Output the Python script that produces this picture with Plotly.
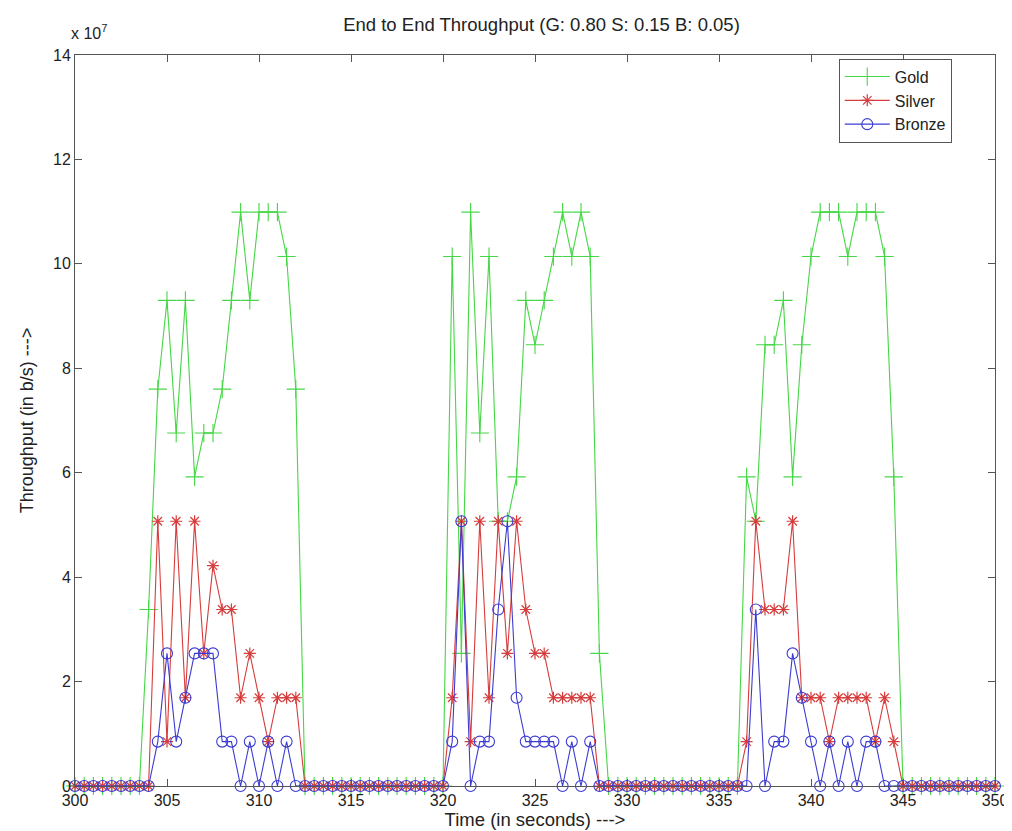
import numpy as np
import plotly.graph_objects as go

# Time axis: samples every 0.5 s from 300 to 350
time_s = np.arange(300.0, 350.5, 0.5)

# Throughput values (b/s) (in units of 1e7 then scaled)
gold_e7 = [
    0, 0, 0, 0, 0, 0, 0, 0, 3.38, 7.6,
    9.3, 6.76, 9.3, 5.92, 6.76, 6.76, 7.6, 9.3, 10.99, 9.3,
    10.99, 10.99, 10.99, 10.14, 7.6, 0, 0, 0, 0, 0,
    0, 0, 0, 0, 0, 0, 0, 0, 0, 0,
    0, 10.14, 2.54, 10.99, 6.76, 10.14, 5.07, 5.07, 5.92, 9.3,
    8.45, 9.3, 10.14, 10.99, 10.14, 10.99, 10.14, 2.54, 0, 0,
    0, 0, 0, 0, 0, 0, 0, 0, 0, 0,
    0, 0, 0, 5.92, 5.07, 8.45, 8.45, 9.3, 5.92, 8.45,
    10.14, 10.99, 10.99, 10.99, 10.14, 10.99, 10.99, 10.99, 10.14, 5.92,
    0, 0, 0, 0, 0, 0, 0, 0, 0, 0,
    0,
]
silver_e7 = [
    0, 0, 0, 0, 0, 0, 0, 0, 0, 5.07,
    0.85, 5.07, 1.69, 5.07, 2.54, 4.22, 3.38, 3.38, 1.69, 2.54,
    1.69, 0.85, 1.69, 1.69, 1.69, 0, 0, 0, 0, 0,
    0, 0, 0, 0, 0, 0, 0, 0, 0, 0,
    0, 1.69, 5.07, 0.85, 5.07, 1.69, 5.07, 2.54, 5.07, 3.38,
    2.54, 2.54, 1.69, 1.69, 1.69, 1.69, 1.69, 0, 0, 0,
    0, 0, 0, 0, 0, 0, 0, 0, 0, 0,
    0, 0, 0, 0.85, 5.07, 3.38, 3.38, 3.38, 5.07, 1.69,
    1.69, 1.69, 0.85, 1.69, 1.69, 1.69, 1.69, 0.85, 1.69, 0.85,
    0, 0, 0, 0, 0, 0, 0, 0, 0, 0,
    0,
]
bronze_e7 = [
    0, 0, 0, 0, 0, 0, 0, 0, 0, 0.85,
    2.54, 0.85, 1.69, 2.54, 2.54, 2.54, 0.85, 0.85, 0, 0.85,
    0, 0.85, 0, 0.85, 0, 0, 0, 0, 0, 0,
    0, 0, 0, 0, 0, 0, 0, 0, 0, 0,
    0, 0.85, 5.07, 0, 0.85, 0.85, 3.38, 5.07, 1.69, 0.85,
    0.85, 0.85, 0.85, 0, 0.85, 0, 0.85, 0, 0, 0,
    0, 0, 0, 0, 0, 0, 0, 0, 0, 0,
    0, 0, 0, 0, 3.38, 0, 0.85, 0.85, 2.54, 1.69,
    0.85, 0, 0.85, 0, 0.85, 0, 0.85, 0.85, 0, 0,
    0, 0, 0, 0, 0, 0, 0, 0, 0, 0,
    0,
]

gold = np.array(gold_e7) * 1e7
silver = np.array(silver_e7) * 1e7
bronze = np.array(bronze_e7) * 1e7

y_ticks = [0, 2, 4, 6, 8, 10, 12, 14]
x_ticks = [300, 305, 310, 315, 320, 325, 330, 335, 340, 345, 350]

GREEN = "rgb(70,215,70)"
RED = "rgb(215,60,60)"
BLUE = "rgb(60,60,210)"
FONT = "Liberation Sans, Arial, sans-serif"

fig = go.Figure()
fig.add_trace(go.Scatter(
    x=time_s, y=gold, name="Gold", mode="lines+markers", cliponaxis=False,
    line=dict(color=GREEN, width=1.1),
    marker=dict(symbol="cross-thin", size=13, color=GREEN,
                line=dict(color=GREEN, width=1.1)),
))
fig.add_trace(go.Scatter(
    x=time_s, y=silver, name="Silver", mode="lines+markers", cliponaxis=False,
    line=dict(color=RED, width=1.1),
    marker=dict(symbol="asterisk", size=10, color=RED,
                line=dict(color=RED, width=1.2)),
))
fig.add_trace(go.Scatter(
    x=time_s, y=bronze, name="Bronze", mode="lines+markers", cliponaxis=False,
    line=dict(color=BLUE, width=1.1),
    marker=dict(symbol="circle-open", size=11, color=BLUE,
                line=dict(color=BLUE, width=1.1)),
))

axis_common = dict(
    showline=True, mirror="ticks", linecolor="#555", linewidth=1,
    ticks="inside", ticklen=7, tickcolor="#555", showgrid=False, zeroline=False,
    tickfont=dict(family=FONT, size=16, color="#222"),
    ticklabeloverflow="allow",
)
fig.update_xaxes(range=[300, 350], tickvals=x_ticks,
                 title=dict(text="Time (in seconds) --->", standoff=1,
                            font=dict(family=FONT, size=18.5, color="#222")),
                 **axis_common)
fig.update_yaxes(range=[0, 14e7], tickvals=[v * 1e7 for v in y_ticks],
                 ticktext=[str(v) for v in y_ticks],
                 title=dict(text="Throughput (in b/s) --->", standoff=14,
                            font=dict(family=FONT, size=18, color="#222")),
                 **axis_common)

fig.update_layout(
    width=1012, height=831,
    margin=dict(l=67, r=12, t=47, b=53),
    plot_bgcolor="white", paper_bgcolor="white",
    title=dict(text="End to End Throughput (G: 0.80 S: 0.15 B: 0.05)",
               x=(67 + 1000) / 2 / 1012, xanchor="center",
               y=1 - 17 / 831, yanchor="middle", yref="container",
               font=dict(family=FONT, size=18.5, color="#222")),
    legend=dict(x=0.953, y=0.995, xanchor="right", yanchor="top",
                bgcolor="white", bordercolor="#555", borderwidth=1,
                font=dict(family=FONT, size=16, color="#222"),
                itemwidth=45, tracegroupgap=0),
    showlegend=True,
    annotations=[dict(text="x 10<sup>7</sup>", xref="paper", yref="paper",
                      x=0.0, y=1.0, xanchor="left", yanchor="bottom",
                      xshift=-6, yshift=11,
                      showarrow=False, font=dict(family=FONT, size=16, color="#222"))],
)

fig.write_html("out.html")
